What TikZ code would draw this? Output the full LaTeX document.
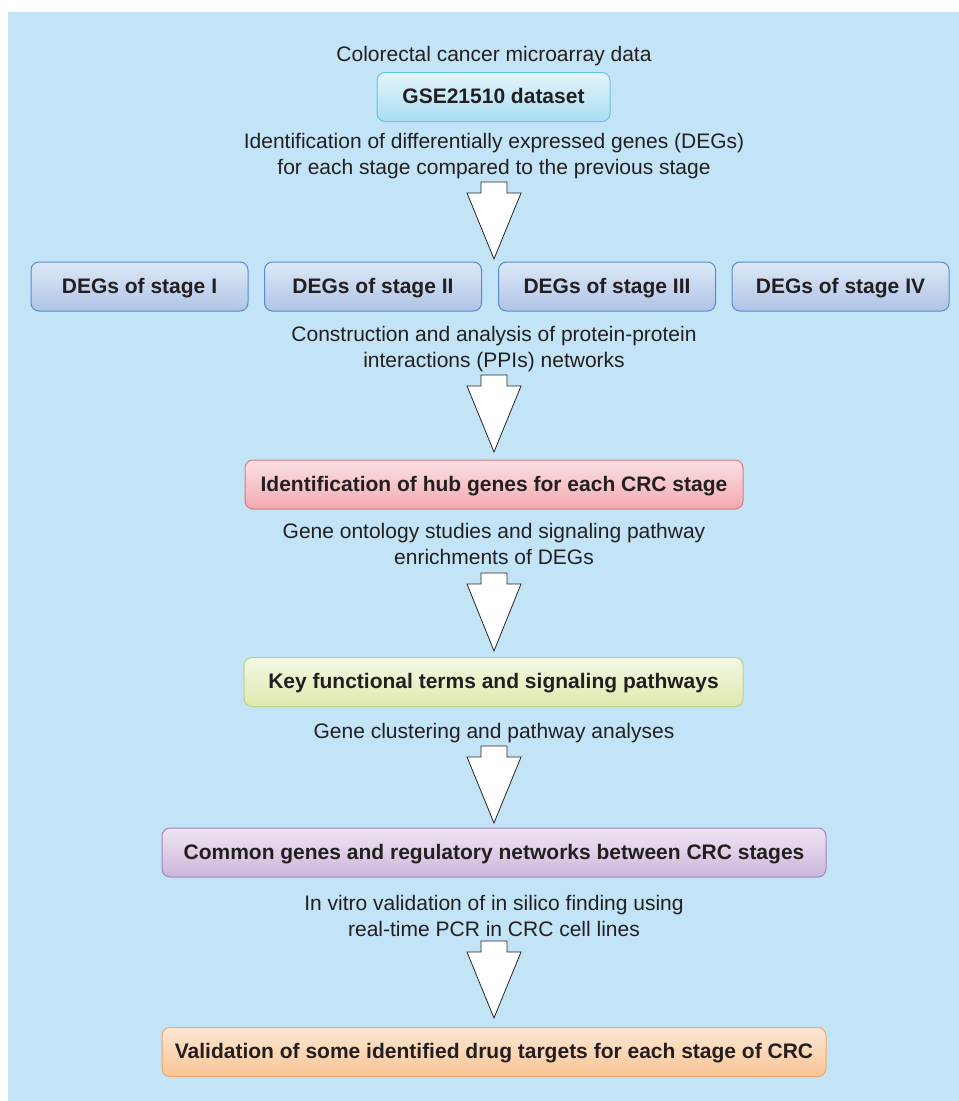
\documentclass[tikz,border=0pt]{standalone}
\usepackage{fontspec}
\setmainfont{Liberation Sans}
\usepackage{tikz}
\usetikzlibrary{calc,positioning,shapes}

\definecolor{bgblue}{HTML}{C2E4F6}
\definecolor{txt}{HTML}{231F20}
\definecolor{gseT}{HTML}{E4F5FB}\definecolor{gseB}{HTML}{A9DDF1}\definecolor{gseD}{HTML}{6CC3DE}
\definecolor{degT}{HTML}{DDE8F6}\definecolor{degB}{HTML}{AFC4E6}\definecolor{degD}{HTML}{5B8AC9}
\definecolor{hubT}{HTML}{FBE1E5}\definecolor{hubB}{HTML}{F2A9AE}\definecolor{hubD}{HTML}{E0797D}
\definecolor{keyT}{HTML}{F4F8E4}\definecolor{keyB}{HTML}{DDE9AE}\definecolor{keyD}{HTML}{BAD584}
\definecolor{comT}{HTML}{EFE5F3}\definecolor{comB}{HTML}{CCB6DA}\definecolor{comD}{HTML}{A384C0}
\definecolor{valT}{HTML}{FDE7D5}\definecolor{valB}{HTML}{F9C595}\definecolor{valD}{HTML}{F2A766}

% block arrow from top of shaft (#1) to tip (#2)
\newcommand{\fatarrow}[2]{\draw[fatarrow] ($(#1)+(-13,0)$) -- ++(26,0) -- ++(0,11) -- ++(14,0)
  -- (#2) -- ($(#1)+(-27,11)$) -- ++(14,0) -- cycle;}

\begin{document}
\begin{tikzpicture}[x=1pt, y=-1pt]
\tikzstyle{every node}=[text=txt, font=\fontsize{21}{26}\selectfont]
\tikzstyle{box}=[draw, rounded corners=8pt, line width=1pt, inner sep=0pt,
                 minimum height=49pt, text height=16pt, text depth=3pt,
                 font=\fontsize{21}{26}\selectfont\bfseries]
\tikzstyle{lab}=[align=center, inner sep=0pt]
\tikzstyle{fatarrow}=[draw=black!85, fill=white, line width=0.8pt, line join=miter]

\useasboundingbox (0,0) rectangle (959,1101);
\fill[bgblue] (8,12) rectangle (959,1101);

% boxes
\node[box, draw=gseD, top color=gseT, bottom color=gseB, minimum width=233pt] (gse) at (493.5,97) {GSE21510 dataset};
\node[box, draw=degD, top color=degT, bottom color=degB, minimum width=217pt] (deg1) at (139.5,286.5) {DEGs of stage I};
\node[box, draw=degD, top color=degT, bottom color=degB, minimum width=217pt] (deg2) at (373,286.5) {DEGs of stage II};
\node[box, draw=degD, top color=degT, bottom color=degB, minimum width=217pt] (deg3) at (607,286.5) {DEGs of stage III};
\node[box, draw=degD, top color=degT, bottom color=degB, minimum width=217pt] (deg4) at (840.5,286.5) {DEGs of stage IV};
\node[box, draw=hubD, top color=hubT, bottom color=hubB, minimum width=498pt] (hub) at (494,484.5) {Identification of hub genes for each CRC stage};
\node[box, draw=keyD, top color=keyT, bottom color=keyB, minimum width=499pt] (key) at (493.5,682) {Key functional terms and signaling pathways};
\node[box, draw=comD, top color=comT, bottom color=comB, minimum width=664pt] (common) at (494,852.5) {Common genes and regulatory networks between CRC stages};
\node[box, draw=valD, top color=valT, bottom color=valB, minimum width=664pt] (valid) at (494,1052) {Validation of some identified drug targets for each stage of CRC};

% labels
\node[lab] (data) at (494,56) {Colorectal cancer microarray data};
\node[lab] (degtxt) at (494,156) {Identification of differentially expressed genes (DEGs)\\for each stage compared to the previous stage};
\node[lab] (ppi) at (494,349) {Construction and analysis of protein-protein\\interactions (PPIs) networks};
\node[lab] (go) at (494,544) {Gene ontology studies and signaling pathway\\enrichments of DEGs};
\node[lab] (clust) at (494,733) {Gene clustering and pathway analyses};
\node[lab] (pcr) at (494,916) {In vitro validation of in silico finding using\\real-time PCR in CRC cell lines};

% arrows
\coordinate (a1) at (494,182); \coordinate (t1) at (494,259);
\coordinate (a2) at (494,375); \coordinate (t2) at (494,452);
\coordinate (a3) at (494,573); \coordinate (t3) at (494,651);
\coordinate (a4) at (494,746); \coordinate (t4) at (494,823);
\coordinate (a5) at (494,941); \coordinate (t5) at (494,1018);
\fatarrow{a1}{t1}
\fatarrow{a2}{t2}
\fatarrow{a3}{t3}
\fatarrow{a4}{t4}
\fatarrow{a5}{t5}
\end{tikzpicture}
\end{document}
